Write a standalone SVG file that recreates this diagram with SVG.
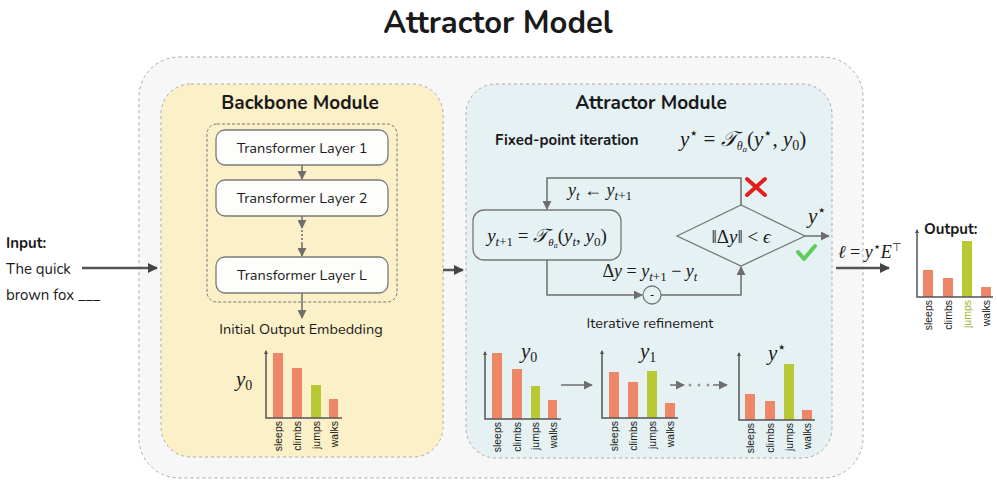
<svg xmlns="http://www.w3.org/2000/svg" width="997" height="486" viewBox="0 0 997 486">
<style>
.s{font-family:"Nunito","Open Sans","Liberation Sans",sans-serif;fill:#1a1a1a}
.m{font-family:"Liberation Serif",serif;fill:#1a1a1a}
.i{font-style:italic}
.ln{fill:none;stroke:#6e6e6e;stroke-width:1.5}
.ax{fill:none;stroke:#555;stroke-width:1.5}
.o{fill:#ee8668}
.g{fill:#b8c935}
.lb{font-family:"Liberation Sans",sans-serif;font-size:10.5px;fill:#1a1a1a}
.bx{fill:#fdfdfb;stroke:#7a7a7a;stroke-width:1.3}
</style>
<defs>
<marker id="a" viewBox="0 0 10 10" refX="9" refY="5" markerWidth="6" markerHeight="6" orient="auto-start-reverse"><path d="M0,0L10,5L0,10z" fill="#6e6e6e"/></marker>
<marker id="b" viewBox="0 0 10 10" refX="9" refY="5" markerWidth="4" markerHeight="4" orient="auto"><path d="M0,0L10,5L0,10z" fill="#444"/></marker>
</defs>
<rect width="997" height="486" fill="#fff"/>
<text x="498" y="33" text-anchor="middle" class="s" font-size="31" font-weight="bold">Attractor Model</text>
<rect x="139" y="57" width="724" height="421" rx="40" fill="#f7f7f7" stroke="#aaa" stroke-dasharray="3,3"/>

<g id="input">
<text x="6" y="248" class="s" font-size="15" font-weight="bold">Input:</text>
<text x="6" y="274" class="s" font-size="15">The quick</text>
<text x="6" y="300" class="s" font-size="15">brown fox ___</text>
</g>

<g id="backbone">
<rect x="161" y="84" width="282" height="373" rx="30" fill="#fcf0c9" stroke="#aaa" stroke-dasharray="3,3"/>
<text x="300" y="109" text-anchor="middle" class="s" font-size="19" font-weight="bold">Backbone Module</text>
<rect x="207" y="124" width="190" height="178" rx="10" fill="none" stroke="#777" stroke-dasharray="3,2"/>
<rect x="216" y="130" width="172" height="35" rx="9" class="bx"/>
<text x="302" y="153" text-anchor="middle" class="s" font-size="14.5">Transformer Layer 1</text>
<rect x="216" y="180" width="172" height="36" rx="9" class="bx"/>
<text x="302" y="203" text-anchor="middle" class="s" font-size="14.5">Transformer Layer 2</text>
<rect x="216" y="257" width="172" height="36" rx="9" class="bx"/>
<text x="302" y="280" text-anchor="middle" class="s" font-size="14.5">Transformer Layer L</text>
<text x="301" y="334" text-anchor="middle" class="s" font-size="14.5">Initial Output Embedding</text>
<text x="236" y="386" class="m i" font-size="21">y<tspan font-size="14" font-style="normal" dy="4">0</tspan></text>
</g>

<g id="attractor">
<rect x="466" y="84" width="366" height="374" rx="30" fill="#e6f1f4" stroke="#aaa" stroke-dasharray="3,3"/>
<text x="651" y="109" text-anchor="middle" class="s" font-size="19" font-weight="bold">Attractor Module</text>
<text x="495" y="145" class="s" font-size="15" font-weight="bold">Fixed-point iteration</text>
<text x="680" y="146" class="m" font-size="21"><tspan class="i">y</tspan><tspan font-size="15" dy="-8">⋆</tspan><tspan dy="8"> = </tspan><tspan class="i">𝒯</tspan><tspan font-size="12" class="i" dy="4">θ</tspan><tspan font-size="9" class="i" dy="2">a</tspan><tspan dy="-6">(</tspan><tspan class="i">y</tspan><tspan font-size="15" dy="-8">⋆</tspan><tspan dy="8">, </tspan><tspan class="i">y</tspan><tspan font-size="14" dy="4">0</tspan><tspan dy="-4">)</tspan></text>
<rect x="473" y="210" width="148" height="50" rx="11" fill="#e6f1f4" stroke="#777" stroke-width="1.3"/>
<text x="547" y="242" text-anchor="middle" class="m" font-size="19"><tspan class="i">y</tspan><tspan font-size="13" class="i" dy="4">t</tspan><tspan font-size="13" dy="0">+1</tspan><tspan dy="-4"> = </tspan><tspan class="i">𝒯</tspan><tspan font-size="11" class="i" dy="4">θ</tspan><tspan font-size="8" class="i" dy="2">a</tspan><tspan dy="-6">(</tspan><tspan class="i">y</tspan><tspan font-size="13" class="i" dy="4">t</tspan><tspan dy="-4">, </tspan><tspan class="i">y</tspan><tspan font-size="13" dy="4">0</tspan><tspan dy="-4">)</tspan></text>
<polygon points="677,236 741,205 805,236 741,266" fill="#e6f1f4" stroke="#777" stroke-width="1.3"/>
<text x="741" y="243" text-anchor="middle" class="m" font-size="19">‖Δ<tspan class="i">y</tspan>‖ &lt; <tspan class="i">ϵ</tspan></text>
<text x="600" y="196" text-anchor="middle" class="m" font-size="18"><tspan class="i">y</tspan><tspan font-size="13" class="i" dy="4">t</tspan><tspan dy="-4"> ← </tspan><tspan class="i">y</tspan><tspan font-size="13" class="i" dy="4">t</tspan><tspan font-size="13">+1</tspan></text>
<text x="650" y="277" text-anchor="middle" class="m" font-size="18">Δ<tspan class="i">y</tspan> = <tspan class="i">y</tspan><tspan font-size="13" class="i" dy="4">t</tspan><tspan font-size="13">+1</tspan><tspan dy="-4"> − </tspan><tspan class="i">y</tspan><tspan font-size="13" class="i" dy="4">t</tspan></text>
<path d="M747,179L765,195M765,179L747,195" stroke="#e0201c" stroke-width="4" stroke-linecap="round"/>
<path d="M798,252L804,259L815,246" fill="none" stroke="#5dcc5a" stroke-width="4" stroke-linecap="round" stroke-linejoin="round"/>
<text x="808" y="223" class="m i" font-size="21">y<tspan font-size="15" font-style="normal" dy="-8">⋆</tspan></text>
<circle cx="652" cy="295" r="9" fill="#e6f1f4" stroke="#777" stroke-width="1.3"/>
<text x="652" y="299" text-anchor="middle" class="s" font-size="11">-</text>
<text x="650" y="328" text-anchor="middle" class="s" font-size="14.5">Iterative refinement</text>
<text x="521" y="358" class="m i" font-size="21">y<tspan font-size="14" font-style="normal" dy="4">0</tspan></text>
<text x="640" y="358" class="m i" font-size="21">y<tspan font-size="14" font-style="normal" dy="4">1</tspan></text>
<text x="768" y="360" class="m i" font-size="21">y<tspan font-size="15" font-style="normal" dy="-8">⋆</tspan></text>
<circle cx="690" cy="385" r="1.5" fill="#999"/><circle cx="699" cy="385" r="1.5" fill="#999"/><circle cx="708" cy="385" r="1.5" fill="#999"/>
</g>

<g id="output">
<text x="924" y="234" class="s" font-size="15" font-weight="bold">Output:</text>
<text x="838" y="258" class="m" font-size="18"><tspan class="i">ℓ</tspan> = <tspan class="i">y</tspan><tspan font-size="13" dy="-7">⋆</tspan><tspan class="i" dy="7">E</tspan><tspan font-size="11" dy="-7">⊤</tspan></text>
</g>

<g id="connectors">
<path d="M82,268H157" stroke="#555" stroke-width="2.5" marker-end="url(#b)"/>
<path d="M443,270H463" stroke="#555" stroke-width="2.5" marker-end="url(#b)"/>
<path d="M836,268H889" stroke="#555" stroke-width="2.5" marker-end="url(#b)"/>
<path d="M302,165V179" class="ln" stroke-width="1" marker-end="url(#a)"/>
<path d="M302,216V228" class="ln" stroke-width="1" marker-end="url(#a)"/>
<path d="M302,230V246" class="ln" stroke-width="1" stroke-dasharray="2,2"/>
<path d="M302,244V256" class="ln" stroke-width="1" marker-end="url(#a)"/>
<path d="M302,293V318" class="ln" stroke-width="1" marker-end="url(#a)"/>
<path d="M741,205V178H547V209" class="ln" marker-end="url(#a)"/>
<path d="M547,260V295H642" class="ln" marker-end="url(#a)"/>
<path d="M661,295H741V267" class="ln" marker-end="url(#a)"/>
<path d="M805,236H829" class="ln" marker-end="url(#a)"/>
<path d="M561,385H592" class="ln" stroke-width="1" marker-end="url(#a)"/>
<path d="M670,385H684" class="ln" stroke-width="1" marker-end="url(#a)"/>
<path d="M713,385H727" class="ln" stroke-width="1" marker-end="url(#a)"/>
</g>

<g id="chart-backbone" transform="translate(266,418)">
<rect x="7" y="-65" width="10" height="65" class="o"/><rect x="26" y="-50" width="10" height="50" class="o"/><rect x="45" y="-33" width="10" height="33" class="g"/><rect x="63" y="-19" width="9" height="19" class="o"/>
<path d="M0,-67V0H76" class="ax" stroke-width="1"/><path d="M-2,-64L0,-68L2,-64z" fill="#555"/>
<g class="lb" text-anchor="end"><text transform="translate(16,3) rotate(-90)">sleeps</text><text transform="translate(35,3) rotate(-90)">climbs</text><text transform="translate(54,3) rotate(-90)">jumps</text><text transform="translate(72,3) rotate(-90)">walks</text></g>
</g>
<g id="chart-y0" transform="translate(485,419)">
<rect x="7" y="-66" width="10" height="66" class="o"/><rect x="27" y="-50" width="10" height="50" class="o"/><rect x="46" y="-33" width="9" height="33" class="g"/><rect x="63" y="-19" width="9" height="19" class="o"/>
<path d="M0,-67V0H76" class="ax" stroke-width="1"/><path d="M-2,-64L0,-68L2,-64z" fill="#555"/>
<g class="lb" text-anchor="end"><text transform="translate(16,3) rotate(-90)">sleeps</text><text transform="translate(36,3) rotate(-90)">climbs</text><text transform="translate(54,3) rotate(-90)">jumps</text><text transform="translate(72,3) rotate(-90)">walks</text></g>
</g>
<g id="chart-y1" transform="translate(602,418)">
<rect x="7" y="-46" width="10" height="46" class="o"/><rect x="26" y="-36" width="10" height="36" class="o"/><rect x="45" y="-47" width="10" height="47" class="g"/><rect x="63" y="-15" width="10" height="15" class="o"/>
<path d="M0,-67V0H76" class="ax" stroke-width="1"/><path d="M-2,-64L0,-68L2,-64z" fill="#555"/>
<g class="lb" text-anchor="end"><text transform="translate(16,3) rotate(-90)">sleeps</text><text transform="translate(35,3) rotate(-90)">climbs</text><text transform="translate(54,3) rotate(-90)">jumps</text><text transform="translate(72,3) rotate(-90)">walks</text></g>
</g>
<g id="chart-ystar" transform="translate(739,420)">
<rect x="6" y="-26" width="10" height="26" class="o"/><rect x="26" y="-19" width="10" height="19" class="o"/><rect x="45" y="-56" width="10" height="56" class="g"/><rect x="63" y="-10" width="10" height="10" class="o"/>
<path d="M0,-67V0H76" class="ax" stroke-width="1"/><path d="M-2,-64L0,-68L2,-64z" fill="#555"/>
<g class="lb" text-anchor="end"><text transform="translate(15,3) rotate(-90)">sleeps</text><text transform="translate(35,3) rotate(-90)">climbs</text><text transform="translate(54,3) rotate(-90)">jumps</text><text transform="translate(72,3) rotate(-90)">walks</text></g>
</g>
<g id="chart-output" transform="translate(917,297)">
<rect x="6" y="-27" width="10" height="27" class="o"/><rect x="26" y="-19" width="10" height="19" class="o"/><rect x="45" y="-56" width="10" height="56" class="g"/><rect x="64" y="-10" width="10" height="10" class="o"/>
<path d="M0,-67V0H76" class="ax" stroke-width="1"/><path d="M-2,-64L0,-68L2,-64z" fill="#555"/>
<g class="lb" text-anchor="end"><text transform="translate(15,3) rotate(-90)">sleeps</text><text transform="translate(35,3) rotate(-90)">climbs</text><text transform="translate(54,3) rotate(-90)" fill="#9ab52a">jumps</text><text transform="translate(73,3) rotate(-90)">walks</text></g>
</g>
</svg>
